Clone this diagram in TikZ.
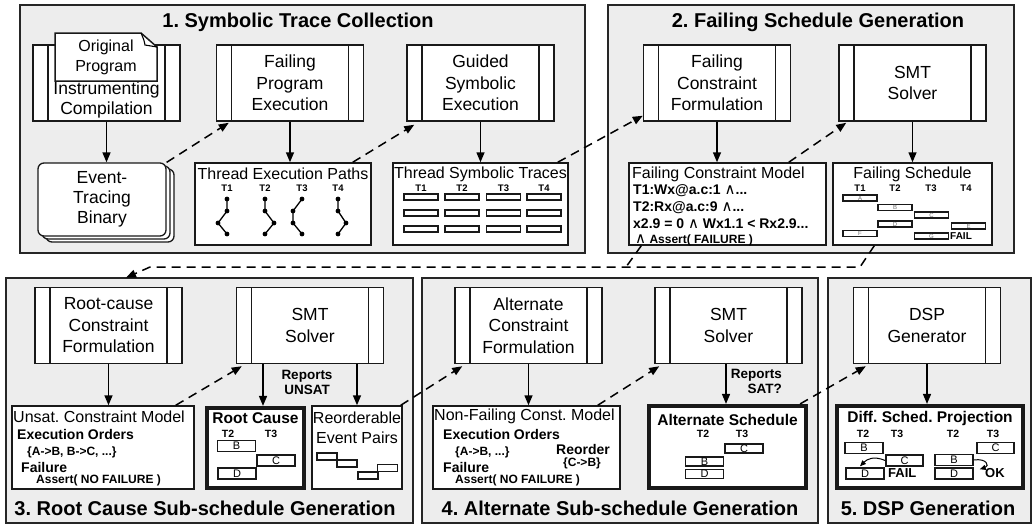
\documentclass[tikz,border=0pt]{standalone}
\usepackage{fontspec}
\setmainfont{Liberation Sans}
\newfontfamily\djv{DejaVu Sans}
\usetikzlibrary{arrows.meta,calc}
\frenchspacing
\newcommand{\andsym}{{\djv\mdseries\fontsize{15}{15}\selectfont ∧}}
\tikzset{
 panel/.style={draw=black!85, fill=black!7, line width=1.5pt},
 box/.style={draw=black!90, fill=white, line width=1.5pt, inner sep=0pt},
 proc/.style={box, minimum width=147pt, minimum height=76pt, align=center, font=\fontsize{17.5}{21.5}\selectfont,
   path picture={\draw[line width=1.5pt] ([xshift=15pt]path picture bounding box.north west) -- ([xshift=15pt]path picture bounding box.south west)
     ([xshift=-15pt]path picture bounding box.north east) -- ([xshift=-15pt]path picture bounding box.south east);}},
 thickbox/.style={box, line width=4.2pt},
 txt/.style={font=\fontsize{16}{20.5}\selectfont, inner sep=0pt, align=center},
 ttl/.style={font=\fontsize{20}{24}\selectfont\bfseries, inner sep=0pt},
 bld/.style={font=\fontsize{14}{17}\selectfont\bfseries, inner sep=0pt},
 hbld/.style={font=\fontsize{15.5}{18}\selectfont\bfseries, inner sep=0pt},
 sbld/.style={font=\fontsize{12}{14}\selectfont\bfseries, inner sep=0pt},
 tl/.style={font=\fontsize{9.5}{10}\selectfont\bfseries, inner sep=0pt},
 tlb/.style={font=\fontsize{10.5}{11}\selectfont\bfseries, inner sep=0pt},
 ev/.style={draw=black!90, fill=white, line width=1.3pt, minimum width=34pt, minimum height=6pt, inner sep=0pt, font=\fontsize{6}{6}\selectfont, text=black!55},
 evb/.style={draw=black!90, fill=white, line width=1.5pt, minimum width=38pt, minimum height=11pt, inner sep=0pt, font=\fontsize{11}{11}\selectfont},
 evs/.style={draw=black!90, fill=white, line width=1.4pt, minimum width=20pt, minimum height=7pt, inner sep=0pt},
 arr/.style={line width=1.5pt, -{Triangle[length=10pt,width=8pt]}},
 darr/.style={arr, dash pattern=on 9pt off 6pt},
 dline/.style={line width=1.5pt, dash pattern=on 9pt off 6pt},
 carr/.style={line width=1pt, -{Triangle[length=6pt,width=5pt]}},
 dot/.style={circle, fill=black, inner sep=0pt, minimum size=4.8pt},
 stackst/.style={draw=black!90, fill=white, line width=1.3pt, rounded corners=6pt},
}
\begin{document}
\begin{tikzpicture}[x=1pt,y=-1pt]
\useasboundingbox (0,0) rectangle (1032,528);
% panels
\draw[panel] (20,5) rectangle (585,253);
\draw[panel] (608,5) rectangle (1014,253);
\draw[panel] (6,278) rectangle (413,523);
\draw[panel] (422,278) rectangle (818,523);
\draw[panel] (828,278) rectangle (1031,523);
% titles
\node[ttl] (h1) at (298,22) {1. Symbolic Trace Collection};
\node[ttl] (h2) at (818,22) {2. Failing Schedule Generation};
\node[ttl] (h3) at (205,508) {3. Root Cause Sub-schedule Generation};
\node[ttl] (h4) at (620,508) {4. Alternate Sub-schedule Generation};
\node[ttl] (h5) at (928,508) {5. DSP Generation};

% ---------- Panel 1
\node[proc] (ic) at (106.5,83) {};
\node[txt, font=\fontsize{17.5}{20}\selectfont] (ict) at (106.5,100) {Instrumenting\\Compilation};
\draw[box] (55,33) -- (141,33) -- (157,47) -- (157,81) -- (55,81) -- cycle;
\draw[line width=1.1pt] (141,33) .. controls (144,40) .. (145,45) -- (157,47);
\node[txt] (doct) at (106,57.5) {Original\\Program};
\node[proc] (fpe) at (290,83) {Failing\\Program\\Execution};
\node[proc] (gse) at (480.5,83) {Guided\\Symbolic\\Execution};

\draw[stackst] (46,169) rectangle (174,242);
\draw[stackst] (42,166) rectangle (170,239);
\node[stackst, minimum width=128pt, minimum height=73pt, inner sep=0pt, align=center, font=\fontsize{17.5}{20}\selectfont] (etb) at (102,199.5) {Event-\\Tracing\\Binary};

\node[box, minimum width=176pt, minimum height=82pt] (tep) at (283,204) {};
\node[txt] (tept) at (283,174) {Thread Execution Paths};
\foreach \i/\px/\ua/\ub/\uc/\ud in {1/227/0/0/-9/0, 2/265/0/0/9/0, 3/302/0/-9/-9/0, 4/338/0/0/8/0} {
  \node[tl] (tt\i) at (\px,188) {T\i};
  \node[dot] (pa\i) at (\px+\ua,199) {};
  \node[dot] (pb\i) at (\px+\ub,211) {};
  \node[dot] (pc\i) at (\px+\uc,223) {};
  \node[dot] (pd\i) at (\px+\ud,234) {};
  \draw[line width=1.3pt] (pa\i.center) -- (pb\i.center) -- (pc\i.center) -- (pd\i.center);
}

\node[box, minimum width=175pt, minimum height=82pt] (tst) at (480.5,204) {};
\node[txt] (tstt) at (480.5,174) {Thread Symbolic Traces};
\foreach \i/\px in {1/421,2/462,3/503.5,4/544} {
  \node[tl] (st\i) at (\px,188) {T\i};
  \foreach \j/\py in {1/197,2/213,3/229} {
    \node[ev] (s\i\j) at (\px,\py) {};
  }
}

\draw[arr] (ic.south) -- (ic.south |- etb.north);
\draw[darr] (etb.north east) -- ([xshift=13pt,yshift=-1pt]fpe.south west);
\draw[arr] (fpe.south) -- (fpe.south |- tep.north);
\draw[darr] ([xshift=-19pt]tep.north east) -- ([xshift=8pt,yshift=-3pt]gse.south west);
\draw[arr] (gse.south) -- (gse.south |- tst.north);

% ---------- Panel 2
\node[proc] (fcf) at (717,83) {Failing\\Constraint\\Formulation};
\node[proc] (smt1) at (912.5,83) {SMT\\Solver};
\node[box, minimum width=197pt, minimum height=82pt] (fcm) at (727.5,204) {};
\node[txt, anchor=west] (f1) at (632,174) {Failing Constraint Model};
\node[bld, anchor=west] (f2) at (633,191) {T1:Wx@a.c:1 \andsym...};
\node[bld, anchor=west] (f3) at (633,208) {T2:Rx@a.c:9 \andsym...};
\node[bld, anchor=west] (f4) at (633,224) {x2.9 = 0 \andsym{} Wx1.1 < Rx2.9...};
\node[sbld, anchor=west] (f5) at (635,240) {\andsym{} Assert( FAILURE )};

\node[box, minimum width=159pt, minimum height=82pt] (fs) at (912.5,204) {};
\node[txt] (fst) at (912.5,174) {Failing Schedule};
\foreach \i/\px in {1/860,2/895,3/931,4/966} { \node[tl] (ft\i) at (\px,188) {T\i}; }
\node[ev] (eA) at (860,198) {A};
\node[ev] (eB) at (895,207.5) {B};
\node[ev] (eC) at (931.5,215) {C};
\node[ev] (eD) at (895,224) {D};
\node[ev] (eE) at (968.5,226) {E};
\node[ev] (eF) at (860,233.5) {F};
\node[ev] (eG) at (931.5,236) {G};
\node[font=\fontsize{10}{10}\selectfont\bfseries, inner sep=0pt, anchor=west] (ffail) at (950,236) {FAIL};

\draw[darr] ([xshift=-11pt]tst.north east) -- ([yshift=6pt]fcf.south west);
\draw[arr] (fcf.south) -- (fcf.south |- fcm.north);
\draw[darr] ([xshift=-38pt]fcm.north east) -- ([xshift=8pt,yshift=-1pt]smt1.south west);
\draw[arr] (smt1.south) -- (smt1.south |- fs.north);

% ---------- Panel 3
\node[proc] (rcf) at (108.5,325.5) {Root-cause\\Constraint\\Formulation};
\node[proc] (smt3) at (310,325.5) {SMT\\Solver};
\node[box, minimum width=182pt, minimum height=83pt] (ucm) at (103,447.5) {};
\node[txt, anchor=west] (u1) at (13,417) {Unsat. Constraint Model};
\node[bld, anchor=west] (u2) at (17,434) {Execution Orders};
\node[sbld, anchor=west] (u3) at (27,452) {\{A->B, B->C, ...\}};
\node[bld, anchor=west] (u4) at (21,467) {Failure};
\node[sbld, anchor=west] (u5) at (36,480) {Assert( NO FAILURE )};

\node[thickbox, minimum width=97pt, minimum height=80pt] (rc) at (255.5,448) {};
\node[hbld] (rct) at (255.5,418) {Root Cause};
\node[tlb] (rt2) at (228,434) {T2};
\node[tlb] (rt3) at (271,434) {T3};
\node[evb] (rB) at (236.5,446) {B};
\node[evb] (rC) at (276,460.5) {C};
\node[evb] (rD) at (237,473.5) {D};

\node[box, minimum width=90pt, minimum height=83pt] (rep) at (357,447.5) {};
\node[txt] (rept) at (357,428) {Reorderable\\Event Pairs};
\node[evs] (q1) at (327,456.5) {};
\node[evs] (q2) at (347,463.5) {};
\node[evs] (q3) at (368,475.5) {};
\node[evs] (q4) at (387.5,468) {};

\node[font=\fontsize{13.5}{15}\selectfont\bfseries, inner sep=0pt, align=center] (rep1) at (307,382.5) {Reports\\UNSAT};

\draw[arr] (rcf.south) -- (rcf.south |- ucm.north);
\draw[darr] ([xshift=-19pt]ucm.north east) -- ([xshift=6pt,yshift=-2pt]smt3.south west);
\draw[arr] ([xshift=-47pt]smt3.south) -- ([xshift=-47pt]smt3.south |- rc.north);
\draw[arr] (smt3.south -| rep.north) -- (rep.north);

% dashed link from panel 2 to panel 3
\coordinate (j1) at (626,267);
\coordinate (j2) at (860,267);
\coordinate (j3) at (150,267);
\draw[dline] ([xshift=13pt]fcm.south west) -- (j1);
\draw[darr] ([xshift=42pt]fs.south west) -- (j2) -- (j3) -- ([xshift=17.5pt,yshift=9pt]rcf.north);

% ---------- Panel 4
\node[proc] (acf) at (528.5,325.5) {Alternate\\Constraint\\Formulation};
\node[proc] (smt4) at (728.5,325.5) {SMT\\Solver};
\node[box, minimum width=187pt, minimum height=83pt] (nfcm) at (526.5,447.5) {};
\node[txt, anchor=west] (n1) at (434,416) {Non-Failing Const. Model};
\node[bld, anchor=west] (n2) at (443,434) {Execution Orders};
\node[sbld, anchor=west] (n3) at (455,452) {\{A->B, ...\}};
\node[bld, anchor=west] (n4) at (443,467) {Failure};
\node[sbld, anchor=west] (n5) at (455,480) {Assert( NO FAILURE )};
\node[bld] (n6) at (583,449) {Reorder};
\node[sbld] (n7) at (582,463) {\{C->B\}};

\node[thickbox, minimum width=157pt, minimum height=82pt] (as) at (727.5,447) {};
\node[hbld] (ast) at (727.5,420) {Alternate Schedule};
\node[tlb] (at2) at (703,434) {T2};
\node[tlb] (at3) at (742,434) {T3};
\node[evb, minimum height=9pt] (aC) at (744,448.5) {C};
\node[evb, minimum height=9pt] (aB) at (704.5,461.5) {B};
\node[evb, minimum height=9pt] (aD) at (704.5,474) {D};

\node[font=\fontsize{13.5}{15}\selectfont\bfseries, inner sep=0pt, align=right, anchor=east] (rep2) at (782,381) {Reports\\SAT?};

\draw[darr] ([xshift=-2pt]rep.north east) -- ([xshift=8pt,yshift=-2pt]acf.south west);
\draw[arr] (acf.south) -- (acf.south |- nfcm.north);
\draw[darr] ([xshift=-23pt]nfcm.north east) -- ([xshift=5pt,yshift=-2pt]smt4.south west);
\draw[arr] ([xshift=-2.5pt]smt4.south) -- ([xshift=-2.5pt]smt4.south |- as.north);

% ---------- Panel 5
\node[proc] (dsp) at (927,325.5) {DSP\\Generator};
\node[thickbox, minimum width=186pt, minimum height=82pt] (proj) at (930,447) {};
\node[hbld] (projt) at (930,418) {Diff. Sched. Projection};
\node[tlb] (pt1) at (863,434) {T2};
\node[tlb] (pt2) at (897,434) {T3};
\node[tlb] (pt3) at (953,434) {T2};
\node[tlb] (pt4) at (993,434) {T3};
\node[evb] (pB) at (864,448) {B};
\node[evb, minimum width=37pt] (pC) at (904.5,460.5) {C};
\node[evb] (pD) at (865,473.5) {D};
\node[font=\fontsize{13}{13}\selectfont\bfseries, inner sep=0pt, anchor=west] (pfail) at (888,473) {FAIL};
\node[evb, minimum width=37pt] (pC2) at (995.5,448) {C};
\node[evb] (pB2) at (954,460) {B};
\node[evb] (pD2) at (954,473.5) {D};
\node[font=\fontsize{13}{13}\selectfont\bfseries, inner sep=0pt, anchor=west] (pok) at (985,473) {OK};
\draw[carr] (pC.west) .. controls ($(pC.west)+(-12,-5)$) and ($(pD.north)+(2,-8)$) .. ([xshift=-5pt,yshift=1pt]pD.north);
\draw[carr] (pB2.east) .. controls ($(pB2.east)+(13,-2)$) and ($(pB2.east)+(16,6)$) .. ([xshift=6pt,yshift=-2pt]pD2.north east);

\draw[darr] ([xshift=-8pt]as.north east) -- ([xshift=13pt,yshift=-2pt]dsp.south west);
\draw[arr] (dsp.south) -- (dsp.south |- proj.north);
\end{tikzpicture}
\end{document}
